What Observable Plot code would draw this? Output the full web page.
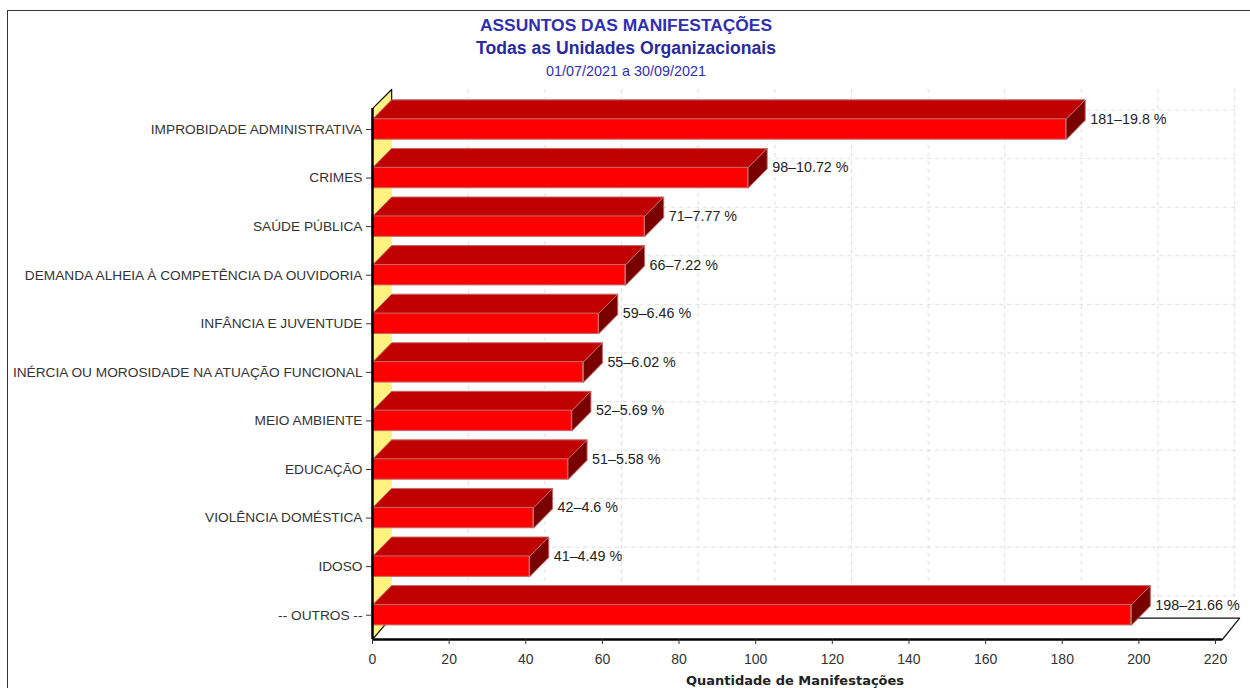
<!DOCTYPE html>
<html><head><meta charset="utf-8">
<script src="https://cdn.jsdelivr.net/npm/d3@7"></script>
<script src="https://cdn.jsdelivr.net/npm/@observablehq/plot@0.6"></script>
<style>
html,body{margin:0;padding:0;background:#fff;overflow:hidden}
#page{position:relative;width:1250px;height:688px;font-family:"Liberation Sans",Arial,sans-serif}
#frame{position:absolute;left:7px;top:10px;right:0;bottom:0;border-left:1px solid #333;border-top:1px solid #333;pointer-events:none}
#head{height:80px;width:1250px;position:relative;color:#2f2fb0;text-align:center}
#head div{position:absolute;left:0;width:1252px;white-space:nowrap}
#t1{top:15px;font-size:17.4px;font-weight:bold;line-height:20px}
#t2{top:38px;font-size:17.6px;font-weight:bold;line-height:20px;color:#2a2a9c}
#t3{top:62px;font-size:14.4px;line-height:18px}
svg{display:block}
</style></head><body>
<div id="page"><div id="frame"></div>
<div id="head"><div id="t1">ASSUNTOS DAS MANIFESTAÇÕES</div><div id="t2">Todas as Unidades Organizacionais</div><div id="t3">01/07/2021 a 30/09/2021</div></div>
<div id="chart"></div></div>
<script>
const categories = ["IMPROBIDADE ADMINISTRATIVA","CRIMES","SAÚDE PÚBLICA","DEMANDA ALHEIA À COMPETÊNCIA DA OUVIDORIA","INFÂNCIA E JUVENTUDE","INÉRCIA OU MOROSIDADE NA ATUAÇÃO FUNCIONAL","MEIO AMBIENTE","EDUCAÇÃO","VIOLÊNCIA DOMÉSTICA","IDOSO","-- OUTROS --"];
const values = [181,98,71,66,59,55,52,51,42,41,198];
const percents = ["19.8","10.72","7.77","7.22","6.46","6.02","5.69","5.58","4.6","4.49","21.66"];
const xTicks = [0,20,40,60,80,100,120,140,160,180,200,220];
const xLabel = "Quantidade de Manifestações";

const depthX = 5, depthY = 0.40, half = 0.21;
const idx = categories.map((_, i) => i);
const poly = (key, pts) => pts.map(([x, y]) => ({key, x, y}));
const top_ = idx.flatMap(i => poly(i, [[0,i-half],[depthX,i-half-depthY],[values[i]+depthX,i-half-depthY],[values[i],i-half],[0,i-half]]));
const side = idx.flatMap(i => poly(i, [[values[i],i-half],[values[i]+depthX,i-half-depthY],[values[i]+depthX,i+half-depthY],[values[i],i+half],[values[i],i-half]]));
const front = idx.map(i => ({x1:0,x2:values[i],y1:i-half,y2:i+half}));
const axisEnd = 221.8, wallTop = -0.43, wallBackTop = -0.824, floorBack = 10.06;
const wall = poly("w", [[0,wallTop],[depthX,wallBackTop],[depthX,floorBack],[0,10.5],[0,wallTop]]);
const wallEdge = poly("e", [[0,wallTop],[depthX,wallBackTop],[depthX,-half-depthY]]);
const floor = poly("f", [[depthX,floorBack],[axisEnd+4.5,floorBack],[axisEnd,10.5]]);
const floorDiag = poly("d", [[0,10.5],[depthX*0.65,10.5-0.3]]);
const edge = "#c26a6a";
const shape = (d, fill, stroke, sw=1) => Plot.line(d, {x:"x",y:"y",z:"key",fill,stroke,strokeWidth:sw,curve:"linear"});

document.getElementById("chart").append(Plot.plot({
  width:1250, height:608,
  marginLeft:372, marginRight:35, marginTop:24.7, marginBottom:49,
  x:{domain:[0,220]},
  y:{domain:[-0.5,10.5],reverse:true},
  style:{fontFamily:'"Liberation Sans",Arial,sans-serif',fontSize:"12px",background:"#fff",color:"#333",overflow:"visible"},
  marks:[
    Plot.ruleX(xTicks,{x:d=>d+depthX,y1:wallBackTop,y2:floorBack,stroke:"#dedede",strokeDasharray:"4,4"}),
    Plot.ruleY(idx,{y:d=>d-depthY,x1:depthX,x2:axisEnd+4.5,stroke:"#dedede",strokeDasharray:"4,4"}),
    shape(wall,"#fff27e","none"),
    shape(wallEdge,"none","#111",1.2),
    shape(floor,"none","#111",1.2),
    shape(floorDiag,"none","#111",1.2),
    shape(top_,"#c00000",edge),
    shape(side,"#7a0000",edge),
    Plot.rect(front,{x1:"x1",x2:"x2",y1:"y1",y2:"y2",fill:"#ff0000",stroke:edge}),
    Plot.ruleX([0],{y1:wallTop,y2:10.5,stroke:"#000",strokeWidth:2.5}),
    Plot.ruleY([10.5],{x1:0,x2:axisEnd,stroke:"#000",strokeWidth:2.5}),
    Plot.text(idx,{x:i=>values[i]+depthX,y:i=>i-half,text:i=>`${values[i]}–${percents[i]} %`,textAnchor:"start",dx:5,fontSize:14.3,fill:"#222"}),
    Plot.axisY({ticks:idx,tickFormat:i=>categories[i],label:null,tickSize:6,tickPadding:4,fontSize:13.7,fill:"#333"}),
    Plot.axisX({ticks:xTicks,label:null,tickSize:5,tickPadding:10,fontSize:14,fill:"#333"}),
    Plot.text([xLabel],{frameAnchor:"bottom",dy:45,dx:1,text:d=>d,fontWeight:"bold",fontFamily:'"DejaVu Sans"',fontSize:13,fill:"#222"})
  ]
}));
</script></body></html>
